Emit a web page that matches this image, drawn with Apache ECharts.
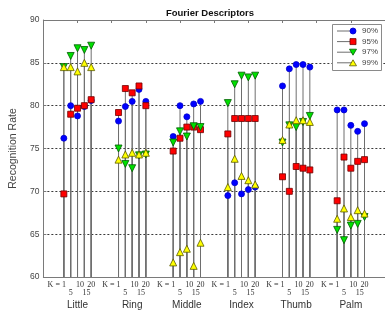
<!DOCTYPE html>
<html>
<head>
<meta charset="utf-8">
<script src="https://cdn.jsdelivr.net/npm/echarts@6/dist/echarts.min.js"></script>
<style>html,body{margin:0;padding:0;background:#fff;}#c{width:385px;height:316px;}</style>
</head>
<body>
<div id="c"></div>
<script>
// ---- data ----
var groups = ['Little', 'Ring', 'Middle', 'Index', 'Thumb', 'Palm'];
var kLabels = ['K = 1', '5', '10', '15', '20'];
var seriesNames = ['90%', '95%', '97%', '99%'];
var r90 = [76.2, 80.0, 78.8, 79.9, 80.6,  78.2, 79.9, 80.5, 81.9, 80.5,  76.4, 80.0, 78.7, 80.2, 80.5,
           69.5, 71.0, 69.7, 70.2, 70.5,  82.3, 84.3, 84.8, 84.8, 84.5,  79.5, 79.5, 77.7, 77.0, 77.9];
var r95 = [69.7, 79.0, 79.7, 80.0, 80.7,  79.2, 82.0, 81.5, 82.3, 80.0,  74.7, 76.2, 77.5, 77.5, 77.2,
           76.7, 78.5, 78.5, 78.5, 78.5,  71.7, 70.0, 72.9, 72.7, 72.5,  68.9, 74.0, 72.7, 73.5, 73.7];
var r97 = [84.5, 85.8, 86.7, 86.5, 87.0,  75.0, 73.2, 72.7, 74.2, 74.3,  75.7, 77.0, 76.4, 77.6, 77.5,
           80.3, 82.5, 83.5, 83.3, 83.5,  75.7, 77.7, 77.5, 78.1, 78.8,  65.5, 64.3, 66.0, 66.2, 67.0];
var r99 = [84.5, 84.5, 84.0, 85.0, 84.5,  73.7, 74.3, 74.5, 74.3, 74.5,  61.7, 62.9, 63.3, 61.3, 64.0,
           70.5, 73.8, 71.8, 71.3, 70.8,  76.0, 77.8, 78.3, 78.3, 78.1,  66.8, 68.0, 67.0, 67.8, 67.4];
var yTicks = [60, 65, 70, 75, 80, 85, 90];

// ---- layout helpers ----
var GROUP_STEP = 8, X_OFFSET = 3, BASE = 60;
function xPos(g, k) { return GROUP_STEP * g + k + X_OFFSET; }
function toPairs(arr) {
  var out = [];
  for (var g = 0; g < groups.length; g++)
    for (var k = 0; k < kLabels.length; k++)
      out.push([xPos(g, k), arr[g * kLabels.length + k]]);
  return out;
}
// label anchor offsets (in axis units) per K position, mimicking the original text placement
var labelShift = [0.3, 0, 0.35, 0.3, 0];
var firstLbl = [], evenLbl = [], oddLbl = [], centers = [];
for (var g = 0; g < groups.length; g++) {
  firstLbl.push(xPos(g, 0) + labelShift[0]);
  evenLbl.push(xPos(g, 2) + labelShift[2], xPos(g, 4) + labelShift[4]);
  oddLbl.push(xPos(g, 1) + labelShift[1], xPos(g, 3) + labelShift[3]);
  centers.push(xPos(g, 2));
}
function kLabelOf(v) { return kLabels[(Math.round(v) - X_OFFSET) % GROUP_STEP]; }
function groupOf(v) { return groups[Math.round((v - X_OFFSET - 2) / GROUP_STEP)]; }

var styles = [
  { symbol: 'circle', size: 6, color: '#0000ff', border: '#0000cc', rotate: 0 },
  { symbol: 'rect', size: 6, color: '#ff0000', border: '#700000', rotate: 0 },
  { symbol: 'triangle', size: 7, color: '#00e000', border: '#005a00', rotate: 180 },
  { symbol: 'triangle', size: 7, color: '#ffff00', border: '#5a5a00', rotate: 0 }
];
var allData = [r90, r95, r97, r99];
var stemColor = '#6e6e6e';

var series = [];
allData.forEach(function (arr, i) {
  series.push({
    type: 'custom', name: seriesNames[i] + ' stem', xAxisIndex: 0, yAxisIndex: 0, z: 2,
    silent: true, clip: false,
    data: toPairs(arr),
    renderItem: function (params, api) {
      var p0 = api.coord([api.value(0), BASE]);
      var p1 = api.coord([api.value(0), api.value(1)]);
      return { type: 'line', shape: { x1: p0[0], y1: p0[1], x2: p1[0], y2: p1[1] },
               style: { stroke: stemColor, lineWidth: 1 } };
    }
  });
});
allData.forEach(function (arr, i) {
  var s = styles[i];
  series.push({
    type: 'scatter', name: seriesNames[i], xAxisIndex: 0, yAxisIndex: 0, z: 3 + i,
    symbol: s.symbol, symbolSize: s.size, symbolRotate: s.rotate,
    itemStyle: { color: s.color, borderColor: s.border, borderWidth: 0.8, opacity: 1 },
    data: toPairs(arr)
  });
});

// legend (drawn box)
var legendEls = [{
  type: 'rect', shape: { x: 332.5, y: 24.5, width: 49, height: 46 },
  style: { fill: '#fff', stroke: '#8a8a8a', lineWidth: 1 }, z: 100
}];
seriesNames.forEach(function (n, i) {
  var y = 31 + i * 10.6;
  var s = styles[i];
  legendEls.push({ type: 'line', shape: { x1: 337, y1: y, x2: 353, y2: y },
    style: { stroke: stemColor, lineWidth: 1 }, z: 101 });
  var mk;
  if (s.symbol === 'circle') {
    mk = { type: 'circle', shape: { cx: 353, cy: y, r: 3 }, style: { fill: s.color, stroke: s.border, lineWidth: 0.8 } };
  } else if (s.symbol === 'rect') {
    mk = { type: 'rect', shape: { x: 350, y: y - 3, width: 6, height: 6 }, style: { fill: s.color, stroke: s.border, lineWidth: 0.8 } };
  } else if (s.rotate === 180) {
    mk = { type: 'polygon', shape: { points: [[349.5, y - 3], [356.5, y - 3], [353, y + 3]] }, style: { fill: s.color, stroke: s.border, lineWidth: 0.8 } };
  } else {
    mk = { type: 'polygon', shape: { points: [[349.5, y + 3], [356.5, y + 3], [353, y - 3]] }, style: { fill: s.color, stroke: s.border, lineWidth: 0.8 } };
  }
  mk.z = 102;
  legendEls.push(mk);
  legendEls.push({ type: 'text', x: 362, y: y, z: 102,
    style: { text: n, fill: '#444', font: '8px "Liberation Sans", Arial, sans-serif', textVerticalAlign: 'middle', verticalAlign: 'middle' } });
});

var axisGray = '#7a7a7a';
var serifFont = '"Liberation Serif", "DejaVu Serif", serif';
function labelAxis(values, fmt, margin, size, family, align) {
  return { type: 'value', min: 0, max: 50, position: 'bottom',
    axisLine: { show: false }, axisTick: { show: false }, splitLine: { show: false },
    axisLabel: { customValues: values, formatter: fmt, margin: margin, fontSize: size, color: '#333',
                 fontFamily: family, align: align } };
}
var xAxes = [
  { type: 'value', min: 0, max: 50, interval: 5, position: 'bottom',
    axisLine: { show: true, lineStyle: { color: axisGray } },
    axisTick: { show: false }, splitLine: { show: false }, axisLabel: { show: false } },
  labelAxis(firstLbl, kLabelOf, 4, 8, serifFont, 'right'),
  labelAxis(evenLbl, kLabelOf, 4, 8, serifFont, 'center'),
  labelAxis(oddLbl, kLabelOf, 12, 8, serifFont, 'center'),
  labelAxis(centers, groupOf, 23, 10, '"Liberation Sans", Arial, sans-serif', 'center'),
  { type: 'value', min: 0, max: 50, interval: 5, position: 'top',
    axisLine: { show: true, lineStyle: { color: axisGray } },
    axisTick: { show: true, inside: true, length: 3, lineStyle: { color: axisGray } },
    axisLabel: { show: false }, splitLine: { show: false } }
];

var option = {
  animation: false,
  backgroundColor: '#fff',
  title: {
    text: 'Fourier Descriptors', left: 205, top: 3, textAlign: 'center',
    textStyle: { fontSize: 9.5, fontWeight: 'bold', color: '#111', fontFamily: '"Liberation Sans", Arial, sans-serif' }
  },
  grid: { left: 33, right: 0, top: 20, bottom: 39, containLabel: false },
  xAxis: xAxes,
  yAxis: [{
    type: 'value', min: yTicks[0], max: yTicks[yTicks.length - 1], interval: 5,
    name: 'Recognition Rate', nameLocation: 'middle', nameGap: 22, nameRotate: 90,
    nameTextStyle: { fontSize: 10.5, color: '#444', fontFamily: '"Liberation Sans", Arial, sans-serif' },
    axisLine: { show: true, lineStyle: { color: axisGray } },
    axisTick: { show: true, inside: true, length: 3, lineStyle: { color: axisGray } },
    axisLabel: { margin: 4, fontSize: 8.5, color: '#444', fontFamily: '"Liberation Sans", Arial, sans-serif' },
    splitLine: { show: true, lineStyle: { color: '#3a3a3a', type: [2, 2], width: 1 } }
  }],
  graphic: legendEls,
  series: series
};
var chart = echarts.init(document.getElementById('c'), null, { renderer: 'canvas' });
chart.setOption(option);
</script>
</body>
</html>
